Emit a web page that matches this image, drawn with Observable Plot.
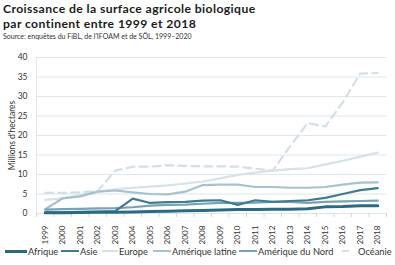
<!DOCTYPE html>
<html>
<head>
<meta charset="utf-8">
<script src="https://cdn.jsdelivr.net/npm/d3@7"></script>
<script src="https://cdn.jsdelivr.net/npm/@observablehq/plot@0.6"></script>
<style>
  html, body { margin: 0; padding: 0; background: #fff; }
  body { width: 395px; height: 265px; position: relative; overflow: hidden; font-family: Lato, "Open Sans", sans-serif; }
  .tl { position: absolute; left: 3px; font-size: 12.2px; font-weight: 700; letter-spacing: 0.4px; line-height: 14.6px; color: #1b1b1b; white-space: nowrap; }
  #t1 { top: 2px; }
  #t2 { top: 16.7px; }
  #source { position: absolute; left: 3px; top: 32px; font-size: 7px; line-height: 8px; color: #333; }
  #chart { position: absolute; left: 0; top: 42px; }
  #legend { position: absolute; left: 0; top: 243px; width: 395px; height: 16px; font-size: 9.3px; color: #333; }
  .item { position: absolute; top: 0; height: 16px; display: flex; align-items: center; white-space: nowrap; }
  .sw { display: inline-block; margin-right: 1px; }
</style>
</head>
<body>
<div id="t1" class="tl">Croissance de la surface agricole biologique</div>
<div id="t2" class="tl">par continent entre 1999 et 2018</div>
<div id="source">Source: enquêtes du FiBL, de l'IFOAM et de SÖL, 1999–2020</div>
<div id="chart"></div>
<div id="legend"></div>
<script>
const years = [1999,2000,2001,2002,2003,2004,2005,2006,2007,2008,2009,2010,2011,2012,2013,2014,2015,2016,2017,2018];
const yTicks = [0,5,10,15,20,25,30,35,40];
const continents = ["Afrique","Asie","Europe","Amérique latine","Amérique du Nord","Océanie"];
const colors = ["#2c6985","#3f7b94","#d5e3e9","#a6c2cf","#76a3b6","#d2e0e6"];

const afrique = [0.2,0.2,0.25,0.3,0.3,0.4,0.5,0.6,0.7,0.8,0.9,1.0,1.0,1.1,1.1,1.2,1.7,1.8,2.0,2.0];
const asie = [0.3,0.3,0.4,0.5,0.6,3.8,2.7,2.9,3.0,3.3,3.4,2.2,3.4,3.0,3.2,3.4,4.0,5.0,6.0,6.5];
const europe = [3.5,3.9,4.7,5.6,6.2,6.6,6.9,7.2,7.7,8.2,9.0,9.9,10.5,11.0,11.4,11.6,12.6,13.5,14.6,15.6];
const ameriqueLatine = [1.1,3.9,4.4,5.6,5.9,5.4,5.0,4.9,5.6,7.3,7.4,7.4,6.8,6.8,6.6,6.6,6.8,7.4,7.9,8.0];
const ameriqueNord = [1.0,1.1,1.2,1.3,1.4,1.6,2.0,2.2,2.3,2.5,2.7,2.7,2.8,3.0,3.0,2.7,3.0,3.1,3.2,3.3];
const oceanie = [5.3,5.3,5.4,5.8,11.0,12.0,12.0,12.4,12.2,12.1,12.1,12.0,11.5,11.0,17.3,23.2,22.3,28.5,35.9,36.0];

const seriesValues = [afrique, asie, europe, ameriqueLatine, ameriqueNord, oceanie];
const widths = [3, 2.2, 2.2, 2.2, 2.2, 2.2];

const rows = [];
continents.forEach((c, i) => years.forEach((y, j) => rows.push({continent: c, year: y, value: seriesValues[i][j]})));
const boundaries = [...years.map(y => y - 0.5), 2018.5];

const lineOrder = ["Océanie","Europe","Amérique latine","Amérique du Nord","Asie","Afrique"];
const lineMarks = lineOrder.map(c => {
  const i = continents.indexOf(c);
  return Plot.line(rows.filter(r => r.continent === c), {
    x: "year", y: "value", stroke: colors[i], strokeWidth: widths[i],
    strokeDasharray: c === "Océanie" ? "8,5" : null, curve: "linear"
  });
});

const chart = Plot.plot({
  width: 395,
  height: 205,
  marginLeft: 36,
  marginRight: 9,
  marginTop: 15,
  marginBottom: 34,
  style: {fontFamily: "Lato, 'Open Sans', sans-serif", color: "#333", background: "#fff"},
  x: {type: "linear", domain: [1998.5, 2018.5]},
  y: {domain: [0, 40]},
  marks: [
    Plot.gridY(yTicks, {stroke: "#dce7ec", strokeOpacity: 1, strokeWidth: 1}),
    Plot.ruleX([1998.5], {stroke: "#dce7ec", strokeWidth: 1}),
    Plot.ruleY([0], {stroke: "#dce7ec", strokeWidth: 1}),
    Plot.axisY({ticks: yTicks, tickSize: 0, tickPadding: 9, fontSize: 8.5, label: "Millions d'hectares", labelAnchor: "center", labelArrow: "none", labelOffset: 28}),
    Plot.axisX({ticks: boundaries, tickSize: 4, tickFormat: () => "", stroke: "#c9d9e0", label: null}),
    Plot.axisX({ticks: years, tickSize: 0, tickPadding: 12, tickRotate: -90, tickFormat: d => String(d), fontSize: 8.2, label: null}),
    ...lineMarks
  ]
});
document.getElementById("chart").appendChild(chart);

// legend
const legendPos = [[5,22],[61,18],[102,16],[153,18],[239,18],[342,14]];
const legend = document.getElementById("legend");
continents.forEach((c, i) => {
  const it = document.createElement("div");
  it.className = "item";
  it.style.left = legendPos[i][0] + "px";
  const sw = document.createElement("span");
  sw.className = "sw";
  sw.style.width = legendPos[i][1] + "px";
  sw.style.height = (i === 0 ? 3 : 2) + "px";
  sw.style.background = colors[i];
  if (c === "Océanie") { sw.style.width = "7px"; sw.style.marginRight = "9px"; }
  const t = document.createElement("span");
  t.textContent = c;
  it.appendChild(sw);
  it.appendChild(t);
  legend.appendChild(it);
});
</script>
</body>
</html>
